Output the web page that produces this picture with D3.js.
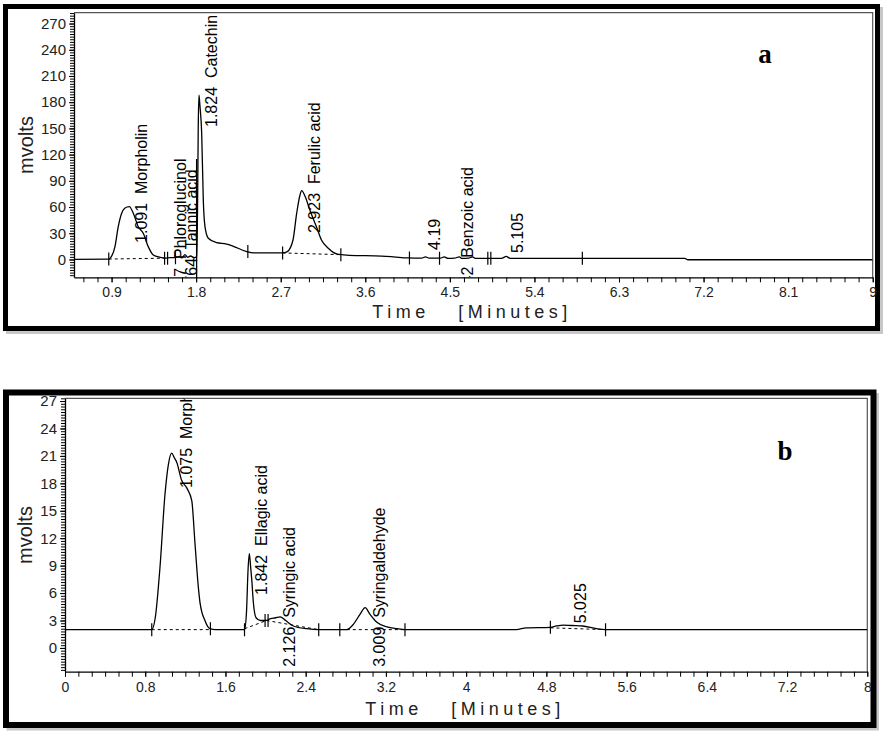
<!DOCTYPE html>
<html><head><meta charset="utf-8">
<script src="https://cdn.jsdelivr.net/npm/d3@7"></script>
<style>
body{margin:0;background:#fff;}
</style></head>
<body><svg id="c" width="887" height="737"></svg>
<script>
// ---------- Panel a data ----------
const xTicksA = [0.9,1.8,2.7,3.6,4.5,5.4,6.3,7.2,8.1,9];
const yTicksA = [0,30,60,90,120,150,180,210,240,270];
const timeA = [0.50,0.87,0.883,0.936,0.971,1.007,1.04,1.088,1.131,1.184,1.237,1.29,1.344,1.415,1.47,1.52,1.58,1.62,1.65,1.68,1.71,1.74,1.78,1.805,1.815,1.822,1.83,1.841,1.859,1.876,1.894,1.929,2.018,2.125,2.19,2.338,2.41,2.50,2.72,2.77,2.83,2.87,2.905,2.923,2.96,3.01,3.08,3.135,3.206,3.295,3.37,3.50,3.70,3.90,4.05,4.20,4.24,4.28,4.40,4.44,4.48,4.55,4.60,4.63,4.70,4.74,4.77,5.05,5.10,5.14,6.50,7.00,7.03,9.00];
const mvA   = [0.2,0.3,1.3,14.7,37.5,52.9,58.6,60.4,52.9,37.5,30,14.7,5.1,2.5,1.5,2.0,2.2,3.5,1.8,5.5,2.5,4.0,2.0,3.0,60,150,188,175,144,68,37.5,24.3,19.2,17.7,15.4,9,7.5,7.5,7.5,9,22,53,73.8,78.7,72,56.6,37.5,22,12.8,6.3,5.3,4.5,4.2,3.0,1.8,1.5,3.0,1.5,1.5,3.0,1.2,1.5,3.0,1.2,1.5,3.0,1.3,1.3,3.5,1.3,1.3,1.3,-0.3,-0.3];
const labelTextA = ["1.091  Morpholin","1.647  Phloroglucinol","1.764  Tannic acid","1.824  Catechin","2.923  Ferulic acid","4.19","4.642  Benzoic acid","5.105"];
const labelTimeA = [1.277,1.692,1.808,2.022,3.118,4.394,4.746,5.278];
const labelMvA   = [18.9,-55.5,-44,151.6,30.3,10.9,-54,7.4];
const markerTimeA = [0.87,1.48,1.58,2.35,2.72,3.34,4.07,4.39,4.92,5.91];
const markerMvA   = [0.5,1.5,2,9,7.5,5.5,1.8,1.5,1.3,1.3];
const markerDoubleA = [false,true,false,false,false,false,false,false,true,false];
const dashA = [[[0.87,0.5],[1.48,1.5]],[[2.72,7.5],[3.34,5.5]]];
const dropLineA = [[1.805,-25],[1.805,115]];

// ---------- Panel b data ----------
const xTicksB = [0,0.8,1.6,2.4,3.2,4,4.8,5.6,6.4,7.2,8];
const yTicksB = [0,3,6,9,12,15,18,21,24,27];
const timeB = [0,0.865,0.90,0.947,0.997,1.03,1.064,1.09,1.114,1.164,1.214,1.264,1.297,1.33,1.347,1.397,1.446,1.50,1.79,1.81,1.825,1.838,1.85,1.862,1.878,1.905,1.95,2.0,2.05,2.10,2.145,2.20,2.277,2.41,2.53,2.81,2.877,2.943,2.993,3.04,3.11,3.21,3.31,3.39,4.50,4.60,4.84,4.90,4.97,5.05,5.16,5.30,5.39,8];
const mvB   = [2,2,3.3,8.8,16.8,20,21.3,20.8,20.3,18.3,17.5,16.1,11.3,6.6,4.9,2.95,2.1,2,2,4,8.5,10.3,9,7.5,5,3.3,3.0,3.0,3.2,3.3,3.4,3.0,2.4,2.1,2.0,2.0,2.6,3.7,4.4,3.7,2.8,2.3,2.1,2.0,2.0,2.2,2.25,2.4,2.5,2.45,2.4,2.1,2.0,2.0];
const labelTextB = ["1.075  Morpholin","1.842  Ellagic acid","2.126  Syringic acid","3.009  Syringaldehyde","5.025"];
const labelTimeB = [1.266,2.014,2.293,3.19,5.2];
const labelMvB   = [17.5,5.8,-2.06,-2.06,2.7];
const markerTimeB = [0.865,1.45,1.79,2.01,2.53,2.74,3.39,4.84,5.39];
const markerMvB   = [2,2.1,2,3.0,2,2,2,2.25,2];
const markerDoubleB = [false,false,false,true,false,false,false,false,false];
const dashB = [[[0.865,2],[1.45,2]],[[1.79,2.1],[2.01,3.0]],[[2.01,3.0],[2.53,2.0]],[[2.81,2],[3.39,2]],[[4.84,2.2],[5.39,2.0]]];

const svg = d3.select("#c");
const fmt = d => String(+d.toFixed(1));
const SANS = '"Liberation Sans", Arial, sans-serif';
const SERIF = '"Liberation Serif", "Times New Roman", serif';

function panel(o){
  const g = svg.append("g");
  g.append("rect").attr("x",o.frame[0]+3).attr("y",o.frame[1]+3).attr("width",o.frame[2]).attr("height",o.frame[3])
    .attr("fill","none").attr("stroke","#c8c8c8").attr("stroke-width",5);
  g.append("rect").attr("x",o.frame[0]).attr("y",o.frame[1]).attr("width",o.frame[2]).attr("height",o.frame[3])
    .attr("fill","#fff").attr("stroke","#000").attr("stroke-width",o.frameW);
  const x = d3.scaleLinear().domain(o.xDom).range([o.L,o.R]);
  const y = d3.scaleLinear().domain(o.yDom).range([o.B,o.T]);
  g.append("path").attr("d",`M${o.L},${o.T}H${o.R}V${o.B}`).attr("fill","none").attr("stroke","#555").attr("stroke-width",1.2);
  g.append("g").attr("transform",`translate(0,${o.B})`)
    .call(d3.axisBottom(x).tickValues(o.xMinor).tickSize(5).tickFormat("").tickSizeOuter(0))
    .call(s=>s.select(".domain").remove()).selectAll("line").attr("stroke","#000");
  g.append("g").attr("transform",`translate(${o.L},0)`)
    .call(d3.axisLeft(y).tickValues(o.yMinor).tickSize(4).tickFormat("").tickSizeOuter(0))
    .call(s=>s.select(".domain").remove()).selectAll("line").attr("stroke","#000");
  const xa = g.append("g").attr("transform",`translate(0,${o.B})`)
    .call(d3.axisBottom(x).tickValues(o.xTicks).tickSize(5).tickPadding(5).tickFormat(fmt).tickSizeOuter(0));
  xa.select(".domain").attr("stroke","#000").attr("stroke-width",1.3);
  xa.selectAll("text").attr("font-size",14).attr("fill","#222").attr("font-family",SANS);
  const ya = g.append("g").attr("transform",`translate(${o.L},0)`)
    .call(d3.axisLeft(y).tickValues(o.yTicks).tickSize(5).tickPadding(3).tickFormat(fmt).tickSizeOuter(0));
  ya.select(".domain").attr("stroke","#000").attr("stroke-width",1.3);
  ya.selectAll("text").attr("font-size",15).attr("fill","#222").attr("font-family",SANS);
  const cid = "clip"+o.id;
  svg.append("defs").append("clipPath").attr("id",cid).append("rect")
    .attr("x",o.L).attr("y",o.T).attr("width",o.R-o.L).attr("height",o.B-o.T);
  const p = g.append("g").attr("clip-path",`url(#${cid})`);
  const line = d3.line().x(d=>x(d[0])).y(d=>y(d[1]));
  o.dash.forEach(seg=>{
    p.append("path").attr("d",line(seg)).attr("stroke","#000").attr("stroke-width",1).attr("stroke-dasharray","3,3").attr("fill","none");
  });
  if(o.drop) p.append("path").attr("d",line(o.drop)).attr("stroke","#000").attr("stroke-width",1.3).attr("fill","none");
  const pts = o.time.map((t,i)=>[t,o.mv[i]]);
  p.append("path").attr("d",d3.line().x(d=>x(d[0])).y(d=>y(d[1])).curve(d3.curveMonotoneX)(pts))
    .attr("fill","none").attr("stroke","#000").attr("stroke-width",1.3);
  o.mTime.forEach((t,i)=>{
    const offs = o.mDouble[i] ? [-1.5,1.5] : [0];
    offs.forEach(dx=>{
      p.append("line").attr("x1",x(t)+dx).attr("x2",x(t)+dx).attr("y1",y(o.mMv[i])-6.5).attr("y2",y(o.mMv[i])+6.5)
        .attr("stroke","#000").attr("stroke-width",1.2);
    });
  });
  o.lText.forEach((s,i)=>{
    p.append("text").attr("transform",`translate(${x(o.lTime[i])},${y(o.lMv[i])}) rotate(-90)`)
      .attr("font-size",16).attr("font-family",SANS).attr("fill","#000").style("white-space","pre").text(s);
  });
  g.append("text").attr("transform",`translate(${o.yTitle[0]},${o.yTitle[1]}) rotate(-90)`)
    .attr("text-anchor","middle").attr("font-size",20).attr("font-family",SANS).attr("fill","#222").text("mvolts");
  g.append("text").attr("x",o.xTitle[0]).attr("y",o.xTitle[1]).attr("text-anchor","middle").attr("font-family",SANS)
    .attr("font-size",18).attr("letter-spacing",4.5).attr("fill","#222").style("white-space","pre").text("Time   [Minutes]");
  g.append("text").attr("x",o.letter[0]).attr("y",o.letter[1]).attr("text-anchor","middle")
    .attr("font-size",27).attr("font-weight","bold").attr("font-family",SERIF).text(o.id);
}

panel({id:"a", frame:[5.5,6.5,872,322], frameW:5,
  xDom:[0.5,9], yDom:[-20.4,282.4], L:74, R:872.7, T:12.7, B:277.3,
  xTicks:xTicksA, yTicks:yTicksA,
  xMinor:d3.range(4,61).map(k=>k*0.15), yMinor:d3.range(-6,95).map(k=>k*3),
  time:timeA, mv:mvA, lText:labelTextA, lTime:labelTimeA, lMv:labelMvA,
  mTime:markerTimeA, mMv:markerMvA, mDouble:markerDoubleA, dash:dashA, drop:dropLineA,
  yTitle:[33,145], xTitle:[472,318], letter:[765,63]});

panel({id:"b", frame:[6,392.5,867.5,332.5], frameW:6,
  xDom:[0,8], yDom:[-2.6,27.3], L:65, R:867.3, T:398.3, B:671.7,
  xTicks:xTicksB, yTicks:yTicksB,
  xMinor:d3.range(0,61).map(k=>k*0.8/6), yMinor:d3.range(-8,92).map(k=>k*0.3),
  time:timeB, mv:mvB, lText:labelTextB, lTime:labelTimeB, lMv:labelMvB,
  mTime:markerTimeB, mMv:markerMvB, mDouble:markerDoubleB, dash:dashB, drop:null,
  yTitle:[32,535], xTitle:[465,715], letter:[785,460]});
</script></body></html>
